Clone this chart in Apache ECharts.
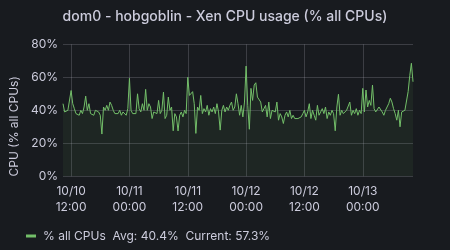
<!DOCTYPE html>
<html>
<head>
<meta charset="utf-8">
<script src="https://cdn.jsdelivr.net/npm/echarts@6/dist/echarts.min.js"></script>
<style>
html,body{margin:0;padding:0;background:#181b1f;}
#c{width:450px;height:250px;}
</style>
</head>
<body>
<div id="c"></div>
<script>
// 20-minute samples starting 10/10 10:20
const startTime = Date.UTC(2023, 9, 10, 10, 20);
const stepMinutes = 20;
const cpuValues = [
 44,39,38,40,39,52,44,41,38,39, 37,40,38,42,48.6,40,44,38,39,37,
 40,41,39,37,25.6,42,40,43,40,45, 43,40,38,39,38,40,37,39,38,37,
 41,59.4,40,38,39,38,50,41,39,44, 40,52.7,40,44,42,35,39,40,38,46,
 38,40,51,35,37,48,40,42,27.6,38, 36,27.5,37,39,36,40,38,60,49,48,
 51.3,44,26,42,40,49,38,41,39,43, 37,41,39,42,38,44,39,28,40,43,
 39,42,40,43,45,40,42,50,44,37, 43,36,45,66.8,43,28.5,53.3,46,55.3,56.7,
 48,47,45,39,38,43,36,45,35,40, 41,39,45,34,38,36,32,37,39,36,
 40,35,37,35,36,35,36,36,38,40, 36,39,44,35,40,37,34,43,37,39,
 41,38,42,35,39,37,40,38,27.6,42, 49.7,37,40,38,37,40,39,45,37,40,
 38,41,37,40,38,53.3,39,52.3,42,46, 43,55.3,41,39,40,42,43,39,37,40,
 41,44,47.3,45,41,38,34,40,30,39, 38,40,39,51.3,61,68.5,57.3
];
const yTicks = [0, 20, 40, 60, 80];
const seriesName = '% all CPUs';
const legendText = '% all CPUs  Avg: 40.4%  Current: 57.3%';
const titleText = 'dom0 - hobgoblin - Xen CPU usage (% all CPUs)';
const yAxisName = 'CPU (% all CPUs)';

function pad(n){return (n<10?'0':'')+n;}
const categories = cpuValues.map((v,i)=>{
  const d = new Date(startTime + i*stepMinutes*60000);
  return pad(d.getUTCMonth()+1)+'/'+pad(d.getUTCDate())+' '+pad(d.getUTCHours())+':'+pad(d.getUTCMinutes());
});
const isMajor = (idx, val) => /(00:00|12:00)$/.test(val);

const textColor = '#ccccdc';
const chart = echarts.init(document.getElementById('c'), null, {renderer:'canvas'});
chart.setOption({
  backgroundColor: '#181b1f',
  animation: false,
  textStyle: {fontFamily: 'Inter'},
  title: {
    text: titleText, left: 'center', top: 5,
    textStyle: {color: textColor, fontSize: 14, fontWeight: 500, fontFamily: 'Inter'}
  },
  grid: {left: 57, right: 37, top: 44.3, bottom: 73.7, containLabel: false},
  legend: {
    left: 21, top: 225, icon: 'rect', itemWidth: 10, itemHeight: 3,
    data: [seriesName],
    formatter: () => legendText,
    textStyle: {color: textColor, fontSize: 12, fontFamily: 'Inter', padding:[0,0,0,2]}
  },
  xAxis: {
    type: 'category', data: categories, boundaryGap: false,
    axisLine: {show: false}, axisTick: {show: false},
    axisLabel: {
      interval: isMajor, color: textColor, fontSize: 12, lineHeight: 16, margin: 7,
      fontFamily: 'Inter',
      formatter: v => v.replace(' ', '\n')
    },
    splitLine: {show: true, interval: isMajor, lineStyle: {color: 'rgba(204,204,220,0.2)', width: 1}}
  },
  yAxis: {
    type: 'value', min: yTicks[0], max: yTicks[yTicks.length-1], interval: 20,
    name: yAxisName, nameLocation: 'middle', nameGap: 33,
    nameTextStyle: {color: textColor, fontSize: 12, fontFamily: 'Inter', padding: [0, 32, 0, 0]},
    axisLine: {show: false}, axisTick: {show: false},
    axisLabel: {color: textColor, fontSize: 12, margin: 5, fontFamily: 'Inter', formatter: '{value}%'},
    splitLine: {show: true, lineStyle: {color: 'rgba(204,204,220,0.2)', width: 1}}
  },
  series: [{
    name: seriesName, type: 'line', data: cpuValues, showSymbol: false, symbol: 'none',
    lineStyle: {color: '#73bf69', width: 1},
    itemStyle: {color: '#73bf69'},
    areaStyle: {color: 'rgba(115,191,105,0.1)'}
  }]
});
</script>
</body>
</html>
